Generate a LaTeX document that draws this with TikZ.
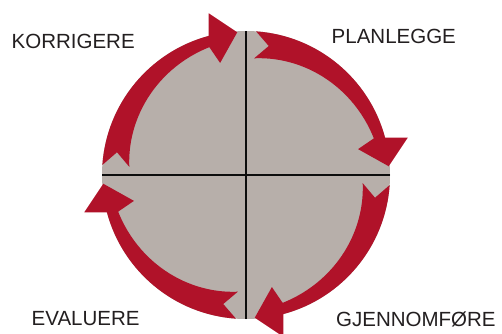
\documentclass[tikz,border=0pt]{standalone}
\usepackage{fontspec}
\setmainfont{Liberation Sans}
\definecolor{cyclered}{HTML}{B01229}
\definecolor{cyclegrey}{HTML}{B7AFAA}
\definecolor{labeltext}{HTML}{231F20}

\begin{document}
\begin{tikzpicture}[
    x=1pt, y=1pt,
    phase/.style={anchor=base west, inner sep=0pt, text=labeltext, font=\fontsize{20.5}{24}\selectfont},
    axisline/.style={line width=2.9pt, draw=black!95},
    cyclearrow/.style={fill=cyclered},
]
    \useasboundingbox (0,0) rectangle (502,333);
    \coordinate (centre) at (246,158);
    \coordinate (top) at ([yshift=144]centre);
    \coordinate (bottom) at ([yshift=-144]centre);
    \coordinate (left) at ([xshift=-144]centre);
    \coordinate (right) at ([xshift=144]centre);

    \fill[cyclegrey] (centre) circle[radius=144];
    \draw[axisline] (top) -- (bottom);
    \draw[axisline] (left) -- (right);

    % one arrow per quadrant, clockwise
    \begin{scope}[shift={(centre)}]
    \foreach \a in {90,0,-90,-180}{
        \pgfmathsetmacro\s{\a-74}
        \pgfmathsetmacro\e{\a-4}
        \fill[cyclearrow] ({\a-10}:131) -- ({\a-4}:144)
            arc[start angle=\a-4, end angle=\a-75, radius=144]
            -- ({\a-77}:166) -- ({\a-86.5}:143) -- ({\a-77}:115) -- ({\a-74}:133)
            -- plot[domain=\s:\e, samples=30] (\x:{133-16*(\x-(\s))/70}) -- cycle;
    }
    \end{scope}

    \node[phase] (korrigere) at (11.5,285) {KORRIGERE};
    \node[phase] (planlegge) at (331.5,289.5) {PLANLEGGE};
    \node[phase] (evaluere) at (31.5,8) {EVALUERE};
    \node[phase] (gjennomfore) at (336,6.3) {GJENNOMFØRE};
\end{tikzpicture}
\end{document}
